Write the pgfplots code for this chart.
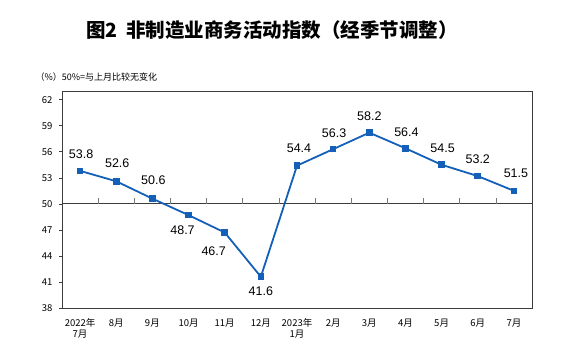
\documentclass[border=0pt]{standalone}
\usepackage{pgfplots}
\pgfplotsset{compat=1.18}
\usepackage{fontspec}
\setmainfont{Liberation Sans}
\newfontfamily\cjk{Noto Sans CJK SC}
\definecolor{lineblue}{RGB}{20,96,184}
\definecolor{frame}{RGB}{60,60,60}
\pgfplotstableread{
x y dx dy
0 53.8 1 17
1 52.6 1 18
2 50.6 1 18
3 48.7 -6 -15
4 46.7 -11 -19
5 41.6 0 -14
6 54.4 2 17
7 56.3 1 16
8 58.2 0 16
9 56.4 1 16
10 54.5 1 17
11 53.2 0 17
12 51.5 2 18
}\datatable
\begin{document}
\begin{tikzpicture}[x=1pt,y=1pt]
\path[use as bounding box] (0,0) rectangle (568,-364);
\node[font=\cjk\bfseries\fontsize{19.5}{19.5}\selectfont] at (272,-30) {图2\ \ 非制造业商务活动指数（经季节调整）};
\node[anchor=west, font=\cjk\fontsize{9}{9}\selectfont] at (32,-77) {（\%）50\%=与上月比较无变化};
\begin{axis}[
  at={(62pt,-91pt)}, anchor=north west,
  width=470pt, height=217pt, scale only axis,
  xmin=-0.5, xmax=12.5, ymin=38, ymax=63,
  ytick={38,41,...,62},
  xtick={0,...,12},
  ytick pos=left,
  xticklabels={{2022年\\7月},8月,9月,10月,11月,12月,{2023年\\1月},2月,3月,4月,5月,6月,7月},
  xticklabel style={align=center, font=\cjk\fontsize{9.5}{11}\selectfont, yshift=-4pt},
  yticklabel style={font=\cjk\fontsize{9.5}{9.5}\selectfont, xshift=-3pt},
  /pgf/number format/assume math mode=true,
  xtick style={draw=none},
  ytick style={draw=frame, line width=0.6pt},
  tick align=outside, major tick length=3pt,
  axis line style={draw=frame, line width=0.9pt},
  clip=false,
  visualization depends on={\thisrow{dx} \as \dx},
  visualization depends on={\thisrow{dy} \as \dy},
  nodes near coords,
  nodes near coords align={center},
  every node near coord/.append style={font=\fontsize{12.5}{12.5}\selectfont, text=black, anchor=center, xshift=\dx pt, yshift=\dy pt},
  point meta=explicit symbolic,
]
\draw[frame, line width=0.9pt] (axis cs:-0.5,50) -- (axis cs:12.5,50);
\pgfplotsinvokeforeach{0.5,1.5,...,11.5}{
  \draw[frame!70, line width=0.6pt] (axis cs:#1,50) -- (axis cs:#1,50.7);
}
\addplot[color=lineblue, line width=1.8pt, mark=square*, mark size=2.4pt, mark options={fill=lineblue, draw=lineblue}]
  table[x=x, y=y, meta=y] {\datatable};
\end{axis}
\end{tikzpicture}
\end{document}
